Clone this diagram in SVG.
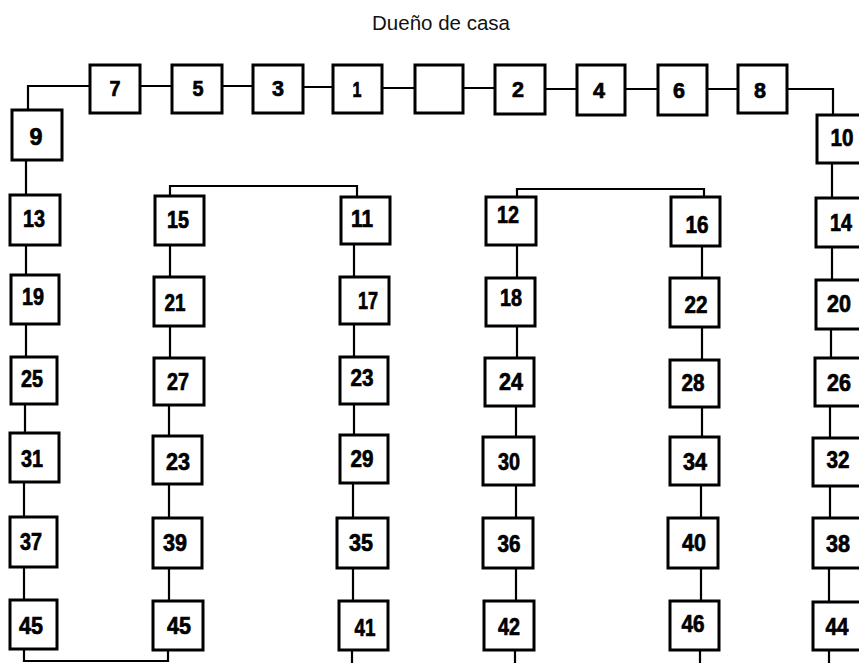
<svg xmlns="http://www.w3.org/2000/svg" width="859" height="663" viewBox="0 0 859 663">
<style>
.b{fill:#fff;stroke:#000;stroke-width:3}
.c{fill:none;stroke:#000;stroke-width:2.2}
.n{font-family:"Liberation Sans",Arial,sans-serif;font-weight:bold;font-size:24px;text-anchor:middle;fill:#000;stroke:#000;stroke-width:0.7}
.s{font-size:22px}
.t{font-family:"Liberation Sans",Arial,sans-serif;font-size:20.5px;text-anchor:middle;fill:#111}
</style>
<rect width="859" height="663" fill="#fff"/>
<text class="t" x="441" y="30">Dueño de casa</text>
<g id="connectors" class="c">
<path d="M28 110V86H90M140 86H172M222 86H253M303 87H333M382 88H415M463 88H495M545 89H577M625 89H658M707 89H738M787 89H833V115"/>
<path d="M26 160V195M26 245V275M26 324V357M25 404V433M24 482V517M24 567V600M24 649V661H168V650"/>
<path d="M170 196V186H357V197M170 245V277M170 326V358M169 405V436M169 484V518M169 568V601"/>
<path d="M354 244V277M354 324V357M354 404V435M353 483V518M353 568V601M352 650V663"/>
<path d="M517 197V189H704V197M517 245V278M517 326V358M516 406V437M516 485V518M516 568V601M515 650V663"/>
<path d="M702 246V278M702 327V360M702 407V437M701 485V518M701 568V601M700 650V663"/>
<path d="M832 163V198M832 247V280M831 329V358M830 406V438M830 486V518M829 568V602M829 650V663"/>
</g>
<g id="n7"><rect class="b" x="90" y="65" width="50" height="48"/><text class="n s" x="115" y="96" textLength="11" lengthAdjust="spacingAndGlyphs">7</text></g>
<g id="n5"><rect class="b" x="172" y="65" width="50" height="48"/><text class="n s" x="198" y="96" textLength="11" lengthAdjust="spacingAndGlyphs">5</text></g>
<g id="n3"><rect class="b" x="253" y="65" width="50" height="48"/><text class="n s" x="278" y="96" textLength="12" lengthAdjust="spacingAndGlyphs">3</text></g>
<g id="n1"><rect class="b" x="333" y="65" width="49" height="48"/><text class="n s" x="357" y="97" textLength="9" lengthAdjust="spacingAndGlyphs">1</text></g>
<g id="n0"><rect class="b" x="415" y="65" width="48" height="48"/></g>
<g id="n2"><rect class="b" x="495" y="65" width="50" height="49"/><text class="n s" x="518" y="97" textLength="12" lengthAdjust="spacingAndGlyphs">2</text></g>
<g id="n4"><rect class="b" x="577" y="65" width="48" height="50"/><text class="n s" x="599" y="98" textLength="12" lengthAdjust="spacingAndGlyphs">4</text></g>
<g id="n6"><rect class="b" x="658" y="65" width="49" height="50"/><text class="n s" x="679" y="98" textLength="12" lengthAdjust="spacingAndGlyphs">6</text></g>
<g id="n8"><rect class="b" x="738" y="65" width="49" height="48"/><text class="n s" x="760" y="98" textLength="12" lengthAdjust="spacingAndGlyphs">8</text></g>

<g id="n9"><rect class="b" x="12" y="110" width="50" height="50"/><text class="n" x="36" y="145" textLength="13" lengthAdjust="spacingAndGlyphs">9</text></g>
<g id="n13"><rect class="b" x="10" y="195" width="50" height="50"/><text class="n" x="34" y="227" textLength="22" lengthAdjust="spacingAndGlyphs">13</text></g>
<g id="n19"><rect class="b" x="11" y="275" width="48" height="49"/><text class="n" x="33" y="305" textLength="22" lengthAdjust="spacingAndGlyphs">19</text></g>
<g id="n25"><rect class="b" x="11" y="357" width="46" height="47"/><text class="n" x="32" y="387" textLength="22" lengthAdjust="spacingAndGlyphs">25</text></g>
<g id="n31"><rect class="b" x="10" y="433" width="49" height="49"/><text class="n" x="32" y="467" textLength="22" lengthAdjust="spacingAndGlyphs">31</text></g>
<g id="n37"><rect class="b" x="10" y="517" width="47" height="50"/><text class="n" x="31" y="550" textLength="22" lengthAdjust="spacingAndGlyphs">37</text></g>
<g id="n45a"><rect class="b" x="10" y="600" width="47" height="49"/><text class="n" x="31" y="634" textLength="24" lengthAdjust="spacingAndGlyphs">45</text></g>

<g id="n15"><rect class="b" x="155" y="196" width="49" height="49"/><text class="n" x="178" y="228" textLength="22" lengthAdjust="spacingAndGlyphs">15</text></g>
<g id="n21"><rect class="b" x="154" y="277" width="50" height="49"/><text class="n" x="175" y="311" textLength="21" lengthAdjust="spacingAndGlyphs">21</text></g>
<g id="n27"><rect class="b" x="154" y="358" width="50" height="47"/><text class="n" x="178" y="390" textLength="22" lengthAdjust="spacingAndGlyphs">27</text></g>
<g id="n23a"><rect class="b" x="153" y="436" width="49" height="48"/><text class="n" x="178" y="470" textLength="24" lengthAdjust="spacingAndGlyphs">23</text></g>
<g id="n39"><rect class="b" x="153" y="518" width="49" height="50"/><text class="n" x="175" y="551" textLength="24" lengthAdjust="spacingAndGlyphs">39</text></g>
<g id="n45b"><rect class="b" x="153" y="601" width="50" height="49"/><text class="n" x="179" y="634" textLength="24" lengthAdjust="spacingAndGlyphs">45</text></g>

<g id="n11"><rect class="b" x="341" y="197" width="49" height="47"/><text class="n" x="362" y="227" textLength="22" lengthAdjust="spacingAndGlyphs">11</text></g>
<g id="n17"><rect class="b" x="340" y="277" width="49" height="47"/><text class="n" x="368" y="309" textLength="20" lengthAdjust="spacingAndGlyphs">17</text></g>
<g id="n23b"><rect class="b" x="340" y="357" width="48" height="47"/><text class="n" x="362" y="386" textLength="23" lengthAdjust="spacingAndGlyphs">23</text></g>
<g id="n29"><rect class="b" x="340" y="435" width="48" height="48"/><text class="n" x="362" y="467" textLength="23" lengthAdjust="spacingAndGlyphs">29</text></g>
<g id="n35"><rect class="b" x="337" y="518" width="51" height="50"/><text class="n" x="361" y="551" textLength="24" lengthAdjust="spacingAndGlyphs">35</text></g>
<g id="n41"><rect class="b" x="339" y="601" width="49" height="49"/><text class="n" x="365" y="636" textLength="21" lengthAdjust="spacingAndGlyphs">41</text></g>

<g id="n12"><rect class="b" x="486" y="197" width="50" height="48"/><text class="n" x="508" y="223" textLength="22" lengthAdjust="spacingAndGlyphs">12</text></g>
<g id="n18"><rect class="b" x="486" y="278" width="49" height="48"/><text class="n" x="511" y="306" textLength="22" lengthAdjust="spacingAndGlyphs">18</text></g>
<g id="n24"><rect class="b" x="485" y="358" width="49" height="48"/><text class="n" x="511" y="390" textLength="24" lengthAdjust="spacingAndGlyphs">24</text></g>
<g id="n30"><rect class="b" x="483" y="437" width="51" height="48"/><text class="n" x="509" y="470" textLength="22" lengthAdjust="spacingAndGlyphs">30</text></g>
<g id="n36"><rect class="b" x="483" y="518" width="50" height="50"/><text class="n" x="509" y="552" textLength="23" lengthAdjust="spacingAndGlyphs">36</text></g>
<g id="n42"><rect class="b" x="484" y="601" width="50" height="49"/><text class="n" x="509" y="635" textLength="22" lengthAdjust="spacingAndGlyphs">42</text></g>

<g id="n16"><rect class="b" x="671" y="197" width="49" height="49"/><text class="n" x="697" y="233" textLength="23" lengthAdjust="spacingAndGlyphs">16</text></g>
<g id="n22"><rect class="b" x="670" y="278" width="49" height="49"/><text class="n" x="696" y="313" textLength="23" lengthAdjust="spacingAndGlyphs">22</text></g>
<g id="n28"><rect class="b" x="670" y="360" width="49" height="47"/><text class="n" x="693" y="391" textLength="23" lengthAdjust="spacingAndGlyphs">28</text></g>
<g id="n34"><rect class="b" x="670" y="437" width="49" height="48"/><text class="n" x="695" y="470" textLength="24" lengthAdjust="spacingAndGlyphs">34</text></g>
<g id="n40"><rect class="b" x="668" y="518" width="50" height="50"/><text class="n" x="694" y="551" textLength="24" lengthAdjust="spacingAndGlyphs">40</text></g>
<g id="n46"><rect class="b" x="670" y="601" width="49" height="49"/><text class="n" x="693" y="632" textLength="23" lengthAdjust="spacingAndGlyphs">46</text></g>

<g id="n10"><rect class="b" x="817" y="115" width="50" height="48"/><text class="n" x="842" y="146" textLength="23" lengthAdjust="spacingAndGlyphs">10</text></g>
<g id="n14"><rect class="b" x="816" y="198" width="50" height="49"/><text class="n" x="841" y="231" textLength="22" lengthAdjust="spacingAndGlyphs">14</text></g>
<g id="n20"><rect class="b" x="816" y="280" width="50" height="49"/><text class="n" x="839" y="312" textLength="24" lengthAdjust="spacingAndGlyphs">20</text></g>
<g id="n26"><rect class="b" x="815" y="358" width="50" height="48"/><text class="n" x="839" y="391" textLength="24" lengthAdjust="spacingAndGlyphs">26</text></g>
<g id="n32"><rect class="b" x="813" y="438" width="50" height="48"/><text class="n" x="838" y="468" textLength="23" lengthAdjust="spacingAndGlyphs">32</text></g>
<g id="n38"><rect class="b" x="813" y="518" width="50" height="50"/><text class="n" x="838" y="552" textLength="24" lengthAdjust="spacingAndGlyphs">38</text></g>
<g id="n44"><rect class="b" x="813" y="602" width="50" height="48"/><text class="n" x="837" y="635" textLength="23" lengthAdjust="spacingAndGlyphs">44</text></g>
</svg>
